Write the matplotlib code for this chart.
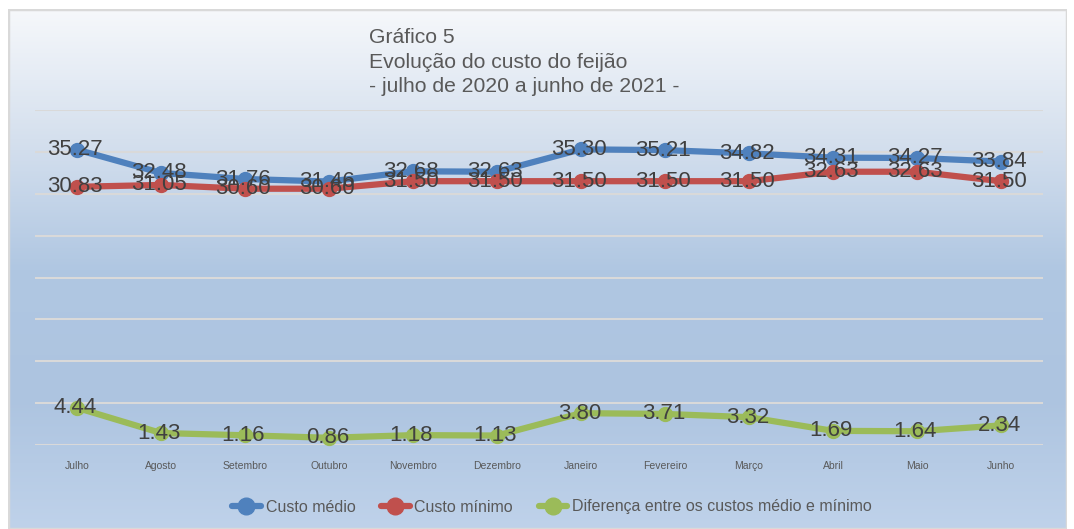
import numpy as np
import matplotlib.pyplot as plt
from matplotlib.colors import LinearSegmentedColormap
from matplotlib.patches import Rectangle

plt.rcParams['font.family'] = ['Liberation Sans', 'DejaVu Sans']

meses = ['Julho', 'Agosto', 'Setembro', 'Outubro', 'Novembro', 'Dezembro',
         'Janeiro', 'Fevereiro', 'Março', 'Abril', 'Maio', 'Junho']
custo_medio = [35.27, 32.48, 31.76, 31.46, 32.68, 32.63, 35.30, 35.21, 34.82, 34.31, 34.27, 33.84]
custo_minimo = [30.83, 31.05, 30.60, 30.60, 31.50, 31.50, 31.50, 31.50, 31.50, 32.63, 32.63, 31.50]
diferenca = [4.44, 1.43, 1.16, 0.86, 1.18, 1.13, 3.80, 3.71, 3.32, 1.69, 1.64, 2.34]

W, H = 1074, 529
fig = plt.figure(figsize=(W / 100, H / 100), dpi=100)
fig.patch.set_facecolor('white')

# fundo com degradê dentro da moldura
bg = fig.add_axes([8 / W, 0, (1067 - 8) / W, (H - 9) / H])
cmap = LinearSegmentedColormap.from_list('bg', ['#f6f8fb', '#d5e0ee', '#b0c7e2', '#adc4e0', '#bfd2ea'])
grad = np.linspace(0, 1, 256).reshape(-1, 1)
bg.imshow(grad, aspect='auto', cmap=cmap, extent=[0, 1, 0, 1], origin='upper')
bg.add_patch(Rectangle((0, 0), 1, 1, transform=bg.transAxes, fill=False,
                       edgecolor='#d9d9d9', linewidth=2.5))
bg.set_axis_off()

# área do gráfico
x0, x1 = 35, 1043
y_top, y_bot = 110, 445
ax = fig.add_axes([x0 / W, (H - y_bot) / H, (x1 - x0) / W, (y_bot - y_top) / H])
ax.patch.set_alpha(0)
x = np.arange(len(meses))
ax.set_xlim(-0.5, len(meses) - 0.5)
ax.set_ylim(0, 40)
ax.set_yticks(np.arange(0, 41, 5))
ax.yaxis.grid(True, color='#d9d9d9', linewidth=1.5)
ax.set_axisbelow(True)
for s in ax.spines.values():
    s.set_visible(False)
ax.tick_params(axis='y', left=False, labelleft=False)
ax.tick_params(axis='x', bottom=False, pad=8, labelsize=7.5, labelcolor='#595959')
ax.set_xticks(x)
ax.set_xticklabels(meses)

series = [
    (custo_medio, '#4f81bd', 'Custo médio'),
    (custo_minimo, '#c0504d', 'Custo mínimo'),
    (diferenca, '#9bbb59', 'Diferença entre os custos médio e mínimo'),
]
for vals, cor, nome in series:
    ax.plot(x, vals, color=cor, linewidth=4.5, marker='o', markersize=10,
            label=nome, solid_capstyle='round', clip_on=False)
for vals, cor, nome in series:
    for xi, v in zip(x, vals):
        ax.text(xi - 0.02, v, f'{v:.2f}', ha='center', va='center', fontsize=16,
                color='#404040')

leg = fig.legend(loc='center', bbox_to_anchor=(0.514, (H - 507) / H), ncol=3,
                 frameon=False, fontsize=11.5, labelcolor='#595959',
                 handlelength=1.8, handletextpad=0.3, columnspacing=1.6,
                 markerscale=1.2)

fig.text(369 / W, (H - 28) / H, 'Gráfico 5\nEvolução do custo do feijão\n- julho de 2020 a junho de 2021 -',
         ha='left', va='top', fontsize=15.2, color='#595959', linespacing=1.38)

fig.savefig('out.png', dpi=100)
